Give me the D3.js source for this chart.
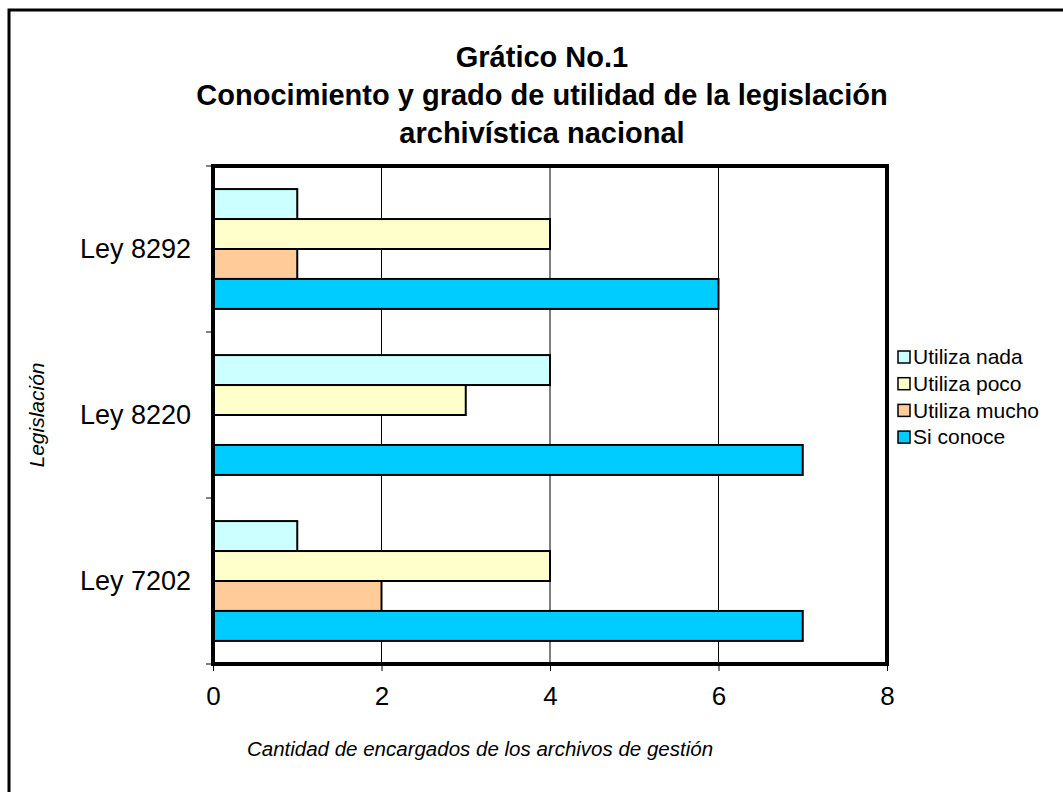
<!DOCTYPE html>
<html>
<head>
<meta charset="utf-8">
<script src="https://cdn.jsdelivr.net/npm/d3@7"></script>
<style>
  body { margin: 0; background: #fff; }
  text { font-family: "Liberation Sans", Arial, sans-serif; }
</style>
</head>
<body>
<div id="chart"></div>
<script>
// Data
const categories = ["Ley 8292", "Ley 8220", "Ley 7202"];
const seriesNames = ["Utiliza nada", "Utiliza poco", "Utiliza mucho", "Si conoce"];
const utilizaNada = [1, 4, 1];
const utilizaPoco = [4, 3, 4];
const utilizaMucho = [1, 0, 2];
const siConoce = [6, 7, 7];
const xTicks = [0, 2, 4, 6, 8];
const colors = ["#CCFFFF", "#FFFFCC", "#FFCC99", "#00CCFF"];

const seriesValues = [utilizaNada, utilizaPoco, utilizaMucho, siConoce];

const width = 1063;
const height = 792;

const svg = d3.select("#chart")
  .append("svg")
  .attr("width", width)
  .attr("height", height);

// outer frame (right and bottom edges fall outside the picture)
svg.append("rect")
  .attr("x", 9).attr("y", 10)
  .attr("width", 1080).attr("height", 820)
  .attr("fill", "none")
  .attr("stroke", "#000")
  .attr("stroke-width", 3);

// Title
const titleLines = ["Grático No.1", "Conocimiento y grado de utilidad de la legislación", "archivística nacional"];
svg.append("g")
  .selectAll("text")
  .data(titleLines)
  .enter()
  .append("text")
  .attr("x", 542)
  .attr("y", (d, i) => 67 + i * 38)
  .attr("text-anchor", "middle")
  .attr("font-size", 29)
  .attr("font-weight", "bold")
  .text((d) => d);

// Plot area
const plotLeft = 213, plotRight = 887, plotTop = 166, plotBottom = 664;

const x = d3.scaleLinear().domain([0, 8]).range([plotLeft, plotRight]);
const y = d3.scaleBand().domain(categories).range([plotTop, plotBottom]);
const yInner = d3.scaleBand()
  .domain(seriesNames)
  .range([0, y.bandwidth()])
  .paddingInner(0)
  .paddingOuter(0.77);

// gridlines
svg.append("g")
  .selectAll("line")
  .data(xTicks.slice(1, -1))
  .enter()
  .append("line")
  .attr("x1", (d) => x(d)).attr("x2", (d) => x(d))
  .attr("y1", plotTop).attr("y2", plotBottom)
  .attr("stroke", "#000")
  .attr("stroke-width", 1);

// bars
const barData = [];
categories.forEach((c, ci) => {
  seriesNames.forEach((s, si) => {
    barData.push({ cat: c, series: s, value: seriesValues[si][ci], color: colors[si] });
  });
});

svg.append("g")
  .selectAll("rect")
  .data(barData.filter((d) => d.value > 0))
  .enter()
  .append("rect")
  .attr("x", x(0))
  .attr("y", (d) => y(d.cat) + yInner(d.series))
  .attr("width", (d) => x(d.value) - x(0))
  .attr("height", yInner.bandwidth())
  .attr("fill", (d) => d.color)
  .attr("stroke", "#000")
  .attr("stroke-width", 2);

// frame
svg.append("rect")
  .attr("x", plotLeft).attr("y", plotTop)
  .attr("width", plotRight - plotLeft).attr("height", plotBottom - plotTop)
  .attr("fill", "none")
  .attr("stroke", "#000")
  .attr("stroke-width", 4);

// x axis
const xAxis = svg.append("g")
  .attr("transform", `translate(0,${plotBottom})`)
  .call(d3.axisBottom(x).tickValues(xTicks).tickSize(7).tickPadding(16).tickFormat(d3.format("d")));
xAxis.select(".domain").remove();
xAxis.selectAll("text").attr("font-size", 26).attr("fill", "#000").attr("font-family", "Liberation Sans, Arial, sans-serif");

// y axis ticks at band edges
svg.append("g")
  .selectAll("line")
  .data(categories.map((c) => y(c)).concat([plotBottom]))
  .enter()
  .append("line")
  .attr("x1", plotLeft - 7).attr("x2", plotLeft)
  .attr("y1", (d) => d).attr("y2", (d) => d)
  .attr("stroke", "#000")
  .attr("stroke-width", 1);

svg.append("g")
  .selectAll("text")
  .data(categories)
  .enter()
  .append("text")
  .attr("x", 191)
  .attr("y", (d) => y(d) + y.bandwidth() / 2)
  .attr("dy", "0.35em")
  .attr("text-anchor", "end")
  .attr("font-size", 27)
  .text((d) => d);

// axis titles
svg.append("text")
  .attr("x", 480)
  .attr("y", 756)
  .attr("text-anchor", "middle")
  .attr("font-size", 20.5)
  .attr("font-style", "italic")
  .text("Cantidad de encargados de los archivos de gestión");

svg.append("text")
  .attr("transform", `translate(44,${(plotTop + plotBottom) / 2}) rotate(-90)`)
  .attr("text-anchor", "middle")
  .attr("font-size", 21)
  .attr("font-style", "italic")
  .text("Legislación");

// legend
const legend = svg.append("g")
  .selectAll("g")
  .data(seriesNames)
  .enter()
  .append("g")
  .attr("transform", (d, i) => `translate(898,${357 + i * 26.7})`);

legend.append("rect")
  .attr("x", 0).attr("y", -6)
  .attr("width", 12).attr("height", 12)
  .attr("fill", (d, i) => colors[i])
  .attr("stroke", "#000")
  .attr("stroke-width", 1.5);

legend.append("text")
  .attr("x", 15)
  .attr("y", 0)
  .attr("dy", "0.35em")
  .attr("font-size", 21)
  .text((d) => d);
</script>
</body>
</html>
